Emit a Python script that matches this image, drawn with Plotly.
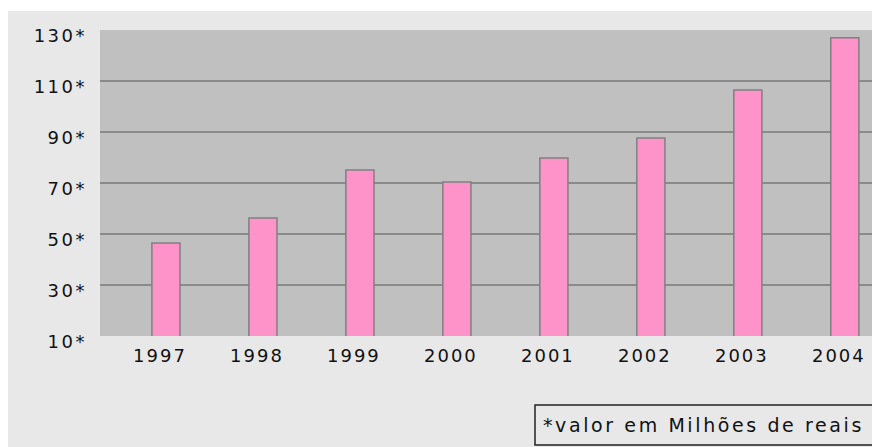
import plotly.graph_objects as go

years = ["1997", "1998", "1999", "2000", "2001", "2002", "2003", "2004"]
values = [46.5, 56.3, 75.1, 70.4, 79.8, 87.6, 106.5, 127.0]
y_ticks = [10, 30, 50, 70, 90, 110, 130]
y_tick_labels = ["10*", "30*", "50*", "70*", "90*", "110*", "130*"]
note_text = "*valor em Milhões de reais"

W, H = 872, 447
L, R, T, B = 100, 0, 30, 111
pw, ph = W - L - R, H - T - B

def px_x(px):
    return (px - L) / pw

def px_y(py):
    return (H - B - py) / ph

def spaced(s, sp):
    return f'<span style="letter-spacing:{sp}px">{s}</span>'

fig = go.Figure()
fig.add_trace(go.Bar(
    x=years, y=values, width=0.29,
    marker=dict(color="#fd93c8", line=dict(color="#808080", width=1.5)),
))

fig.update_layout(
    width=W, height=H,
    margin=dict(l=L, r=R, t=T, b=B, pad=0),
    paper_bgcolor="#e8e8e8",
    plot_bgcolor="#c0c0c0",
    showlegend=False,
    font=dict(family="DejaVu Sans", size=18, color="#111111"),
    xaxis=dict(
        type="category", range=[-0.68, 7.28],
        tickvals=years, ticktext=[spaced(y, 2) for y in years],
        showgrid=False, zeroline=False, showline=False, ticks="",
        ticklabelstandoff=7, ticklabelshift=-6,
    ),
    yaxis=dict(
        range=[10, 130], tickvals=y_ticks,
        ticktext=[spaced(t, 2.5) for t in y_tick_labels],
        showgrid=True, gridcolor="#8a8a8a", gridwidth=2,
        zeroline=False, showline=False, ticks="",
        ticklabelstandoff=12, ticklabelshift=6,
    ),
    shapes=[
        dict(type="rect", xref="paper", yref="paper",
             x0=px_x(-5), x1=px_x(W + 5), y0=px_y(11), y1=px_y(-5),
             fillcolor="white", line=dict(width=0), layer="above"),
        dict(type="rect", xref="paper", yref="paper",
             x0=px_x(-5), x1=px_x(8), y0=px_y(H + 5), y1=px_y(-5),
             fillcolor="white", line=dict(width=0), layer="above"),
        dict(type="rect", xref="paper", yref="paper",
             x0=px_x(535), x1=px_x(W + 10), y0=px_y(445), y1=px_y(405),
             fillcolor="#e8e8e8", line=dict(color="#222222", width=1.5)),
    ],
    annotations=[
        dict(xref="paper", yref="paper", x=px_x(541), y=px_y(425),
             xanchor="left", yanchor="middle", showarrow=False,
             text=spaced(note_text, 2.6),
             font=dict(family="DejaVu Sans", size=19, color="#111111")),
    ],
)

fig.write_html("out.html")
